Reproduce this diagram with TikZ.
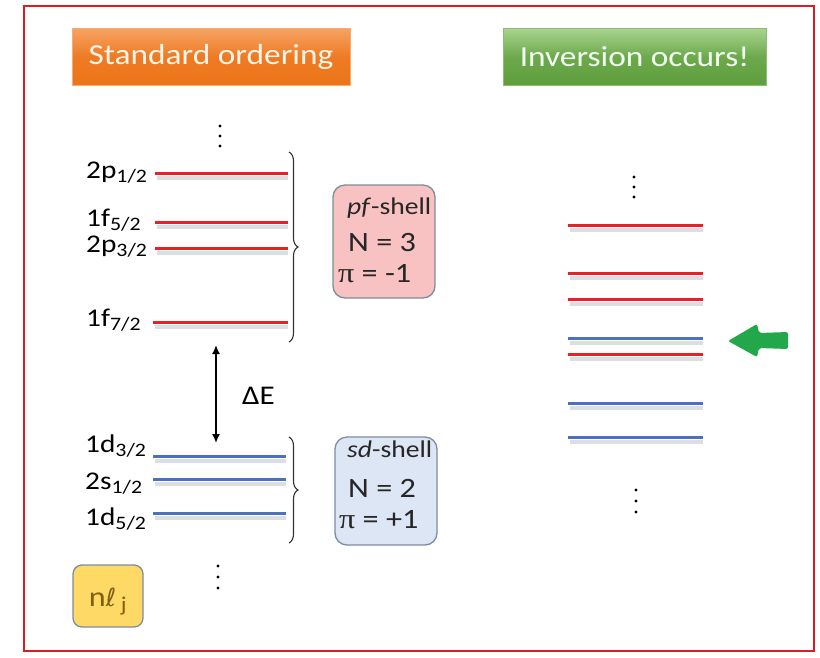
\documentclass[tikz,border=0pt]{standalone}
\usepackage{fontspec}
\setmainfont[FakeStretch=1.15]{Carlito}
\newfontfamily\grfont[FakeStretch=1.15]{Liberation Serif}
\newfontfamily\ellfont{DejaVu Sans}
\usetikzlibrary{arrows.meta,decorations.pathreplacing}
\definecolor{lvred}{HTML}{E82028}
\definecolor{lvblue}{HTML}{4A72C0}
\definecolor{lvshadow}{HTML}{C4C8CE}
\definecolor{frame}{HTML}{D81E24}
\definecolor{orangeT}{HTML}{F6A363}
\definecolor{orangeB}{HTML}{EC7418}
\definecolor{greenT}{HTML}{A8D48E}
\definecolor{greenB}{HTML}{5E9E3C}
\definecolor{pinkfill}{HTML}{F8C2C2}
\definecolor{bluefill}{HTML}{DCE6F4}
\definecolor{yellowfill}{HTML}{FFD966}
\definecolor{boxborder}{HTML}{7E8CA0}
\definecolor{arrowgreen}{HTML}{22A84A}
\definecolor{nljtext}{HTML}{7F6010}
\tikzset{
  x=1pt, y=-1pt,
  header/.style={minimum width=#1, minimum height=57pt, inner sep=0pt, font=\fontsize{29}{29}\selectfont},
  redlvl/.style={draw=lvred, line width=3pt},
  bluelvl/.style={draw=lvblue, line width=3pt},
  lvshade/.style={draw=lvshadow, line width=4pt, opacity=0.6},
  lvlabel/.style={anchor=base west, inner sep=0pt, font=\fontsize{25.5}{25.5}\selectfont},
  infobox/.style={draw=boxborder, line width=1.3pt, rounded corners=12pt},
  infotext/.style={anchor=base west, inner sep=0pt, text=black!85},
  bracestyle/.style={draw=black!80, line width=1.1pt, decorate, decoration={brace, amplitude=9pt, aspect=0.5}},
  vdot/.style={fill=black, circle, inner sep=0pt, minimum size=3.4pt}
}
\newcommand{\lvl}[4]{% style, x1, x2, y
  \draw[lvshade] (#2+2,#4+5) -- (#3,#4+5);
  \draw[#1] (#2,#4) -- (#3,#4);
}
\newcommand{\sbs}[1]{\textsubscript{\fontsize{19}{19}\selectfont #1}}
\begin{document}
\begin{tikzpicture}
\useasboundingbox (0,0) rectangle (820,657);
% frame
\draw[frame, line width=1.6pt] (24,6) rectangle (814,651);

% headers
\node[header=278pt, top color=orangeT, bottom color=orangeB, middle color=orangeB!85!orangeT, text=orange!8, draw=orangeB!60!white, line width=0.6pt] (hstd) at (211,57) {Standard ordering};
\node[header=263pt, top color=greenT, bottom color=greenB, middle color=greenB!80!greenT, text=green!5!white, draw=greenB!70!white, line width=0.6pt] (hinv) at (634.5,57) {Inversion occurs!};

% left: dots
\foreach \yy in {126,136,146} \node[vdot] at (220,\yy) {};
\foreach \yy in {566,577,588} \node[vdot] at (218,\yy) {};

% left red levels
\lvl{redlvl}{155}{288}{173}
\lvl{redlvl}{155}{288}{222}
\lvl{redlvl}{155}{288}{248}
\lvl{redlvl}{153}{288}{322}
% left blue levels
\lvl{bluelvl}{153}{286}{456}
\lvl{bluelvl}{153}{286}{479}
\lvl{bluelvl}{153}{286}{513}

% labels
\node[lvlabel] (l1) at (86,178) {2p\sbs{1/2}};
\node[lvlabel] (l2) at (86,226) {1f\sbs{5/2}};
\node[lvlabel] (l3) at (86,252) {2p\sbs{3/2}};
\node[lvlabel] (l4) at (86,326) {1f\sbs{7/2}};
\node[lvlabel] (l5) at (85,452) {1d\sbs{3/2}};
\node[lvlabel] (l6) at (85,489) {2s\sbs{1/2}};
\node[lvlabel] (l7) at (85,525) {1d\sbs{5/2}};

% braces
\draw[bracestyle] (289,152) -- (289,342);
\draw[bracestyle] (289,437) -- (289,543);

% Delta E arrow
\coordinate (dtop) at (216,345);
\coordinate (dbot) at (216,443);
\draw[line width=1.6pt, {Latex[length=9pt,width=8pt]}-{Latex[length=9pt,width=8pt]}] (dtop) -- (dbot);
\node[anchor=base west, inner sep=0pt, font=\fontsize{27}{27}\selectfont] (dE) at (242,404) {ΔE};

% pf-shell box
\draw[infobox, fill=pinkfill] (333,185) rectangle (435,298);
\node[infotext, font=\fontsize{24}{24}\selectfont] (pf1) at (347,214) {\textit{pf}-shell};
\node[infotext, font=\fontsize{28}{28}\selectfont] (pf2) at (348,251) {N = 3};
\node[infotext, font=\fontsize{28}{28}\selectfont] (pf3) at (338,282) {{\grfont π} = -1};

% sd-shell box
\draw[infobox, fill=bluefill] (335,437) rectangle (437,545);
\node[infotext, font=\fontsize{24}{24}\selectfont] (sd1) at (347,457) {\textit{sd}-shell};
\node[infotext, font=\fontsize{28}{28}\selectfont] (sd2) at (348,497) {N = 2};
\node[infotext, font=\fontsize{28}{28}\selectfont] (sd3) at (339,528) {{\grfont π} = +1};

% n l j box
\draw[infobox, fill=yellowfill, rounded corners=9pt] (73,565) rectangle (143,627);
\node[anchor=base, inner sep=0pt, text=nljtext, font=\fontsize{28}{28}\selectfont] (nlj) at (108,606) {n{\ellfont\fontsize{25}{25}\selectfont\itshape ℓ}\,\textsubscript{\fontsize{21}{21}\selectfont j}};

% right column
\foreach \yy in {177,187,197} \node[vdot] at (634,\yy) {};
\foreach \yy in {490,501,512} \node[vdot] at (636,\yy) {};
\lvl{redlvl}{568}{703}{225}
\lvl{redlvl}{568}{703}{273}
\lvl{redlvl}{568}{703}{299}
\lvl{bluelvl}{568}{703}{338}
\lvl{redlvl}{568}{703}{354}
\lvl{bluelvl}{568}{703}{403}
\lvl{bluelvl}{568}{703}{437}

% green arrow
\fill[arrowgreen, rounded corners=2pt] (728,341) -- (757,324) -- (759,333) -- (788,332) -- (788,349) -- (759,348) -- (757,357) -- cycle;
\end{tikzpicture}
\end{document}
